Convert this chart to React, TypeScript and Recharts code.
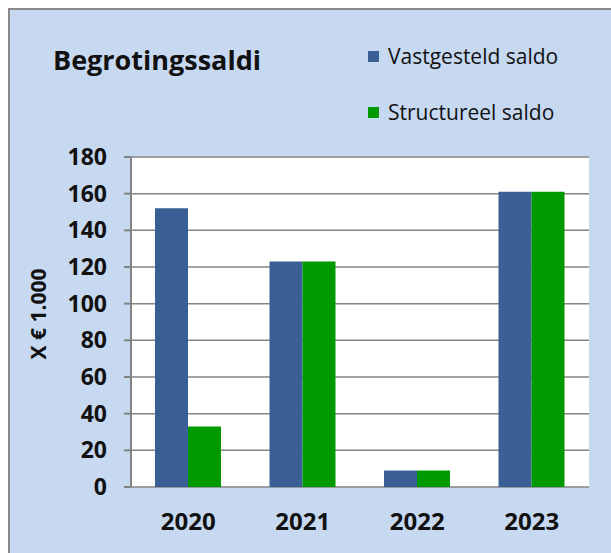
import { BarChart, Bar, XAxis, YAxis, CartesianGrid, Legend } from 'recharts'

const years = ['2020', '2021', '2022', '2023'];
const vastgesteld = [152, 123, 9, 161];
const structureel = [33, 123, 9, 161];
const seriesNames = ['Vastgesteld saldo', 'Structureel saldo'];
const yTicks = [0, 20, 40, 60, 80, 100, 120, 140, 160, 180];
const boundaryTicks = [0, 1, 2, 3, 4];

const data = years.map((year, i) => ({
    year,
    vastgesteld: vastgesteld[i],
    structureel: structureel[i],
}));

const FONT = '"Open Sans", sans-serif';
const AXIS = '#848484';

const LegendContent = (props: any) => {
    const items = [...(props.payload || [])].sort(
        (a: any, b: any) => seriesNames.indexOf(a.value) - seriesNames.indexOf(b.value)
    );
    return (
        <div style={{ fontFamily: FONT, fontSize: 21, color: '#111' }}>
            {items.map((entry: any, i: number) => (
                <div key={i} style={{ display: 'flex', alignItems: 'center', height: 24, marginBottom: i === 0 ? 32 : 0 }}>
                    <span style={{ width: 11, height: 11, background: entry.color, marginRight: 9 }} />
                    <span>{entry.value}</span>
                </div>
            ))}
        </div>
    );
};

const YLabel = (props: any) => {
    const { viewBox } = props;
    const cx = viewBox.x + 28;
    const cy = viewBox.y + viewBox.height / 2 - 8;
    return (
        <text x={cx} y={cy} transform={`rotate(-90 ${cx} ${cy})`} textAnchor="middle" dominantBaseline="central"
              fontFamily={FONT} fontWeight={700} fontSize={21} fill="#111">
            X € 1.000
        </text>
    );
};

const App = () => {
    return (
        <div style={{ position: 'absolute', left: 8, top: 8, width: 603, height: 545, background: '#C6D9F1', borderLeft: '2px solid #8a8a8a', borderTop: '2px solid #8a8a8a', boxSizing: 'border-box' }}>
            <div style={{ position: 'absolute', left: 43, top: 36, fontFamily: FONT, fontWeight: 700, fontSize: 27, lineHeight: '27px', color: '#111' }}>
                Begrotingssaldi
            </div>
            <BarChart
                width={601}
                height={543}
                data={data}
                barSize={33}
                barGap={0}
                margin={{ top: 147, right: 22, bottom: 26, left: 0 }}
            >
                <CartesianGrid vertical={false} stroke={AXIS} strokeWidth={1.5} fill="#ffffff" />
                <XAxis
                    xAxisId="edges"
                    type="number"
                    domain={[0, 4]}
                    ticks={boundaryTicks}
                    height={0}
                    tick={false}
                    tickSize={7}
                    stroke={AXIS}
                    strokeWidth={2}
                    allowDataOverflow
                />
                <XAxis
                    dataKey="year"
                    height={40}
                    axisLine={false}
                    tickLine={false}
                    tickSize={0}
                    tickMargin={26}
                    tick={{ fontFamily: FONT, fontWeight: 700, fontSize: 24, fill: '#111' }}
                />
                <YAxis
                    width={121}
                    domain={[0, 180]}
                    ticks={yTicks}
                    interval={0}
                    stroke={AXIS}
                    strokeWidth={2}
                    tickSize={7}
                    tickMargin={17}
                    tick={{ fontFamily: FONT, fontWeight: 700, fontSize: 23, fill: '#111' }}
                    label={<YLabel />}
                />
                <Legend
                    layout="vertical"
                    verticalAlign="middle"
                    align="center"
                    wrapperStyle={{ left: 358, top: 34, width: 240 }}
                    content={<LegendContent />}
                />
                <Bar dataKey="vastgesteld" name={seriesNames[0]} fill="#3A5F94" isAnimationActive={false} />
                <Bar dataKey="structureel" name={seriesNames[1]} fill="#009900" isAnimationActive={false} />
            </BarChart>
        </div>
    );
};

export default App;
